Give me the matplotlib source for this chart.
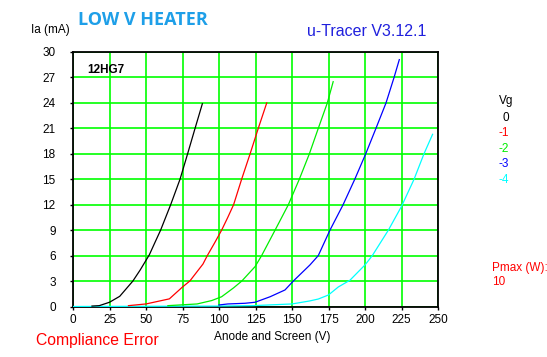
import matplotlib
matplotlib.use("Agg")
import matplotlib.pyplot as plt

# curves: anode voltage (V) vs anode current (mA)
vg_labels = ["0", "-1", "-2", "-3", "-4"]
vg_colors = ["black", "#FF0000", "#00EE00", "#0000FF", "#00FFFF"]

va_0 = [13, 18, 25, 32, 41, 46, 52.3, 56, 60, 66.9, 73.3, 78.5, 83.6, 88.6]
ia_0 = [0.05, 0.1, 0.5, 1.2, 3, 4.3, 6.1, 7.5, 9, 12, 15, 18, 21, 23.9]

va_1 = [38, 50, 58, 66, 75, 80, 89, 92, 97, 101.8, 106, 110, 115.5, 121.3, 126.9, 132.7]
ia_1 = [0.1, 0.3, 0.6, 0.9, 2.3, 3, 5, 6, 7.5, 9, 10.5, 12, 15, 18, 21, 24]

va_2 = [65, 85, 95, 101.8, 110, 115.6, 124.7, 129.2, 138.4, 147.5, 155, 161.9, 168, 174.2, 178.2]
ia_2 = [0.1, 0.3, 0.7, 1.15, 2.2, 3, 4.7, 6, 9, 12, 15, 18, 21, 24, 26.5]

va_3 = [100, 106, 117.8, 124.7, 135, 145.2, 150.9, 162.3, 168, 176, 185, 193, 200.5, 207.5, 214.4, 219.9, 223.5]
ia_3 = [0.18, 0.3, 0.38, 0.5, 1.15, 1.95, 3, 4.9, 6, 9, 12, 15, 18, 21, 24, 27, 29.1]

va_4 = [0, 100, 123, 150, 162, 168, 175, 181.7, 189.7, 200, 205, 216, 225, 233.6, 240.4, 246.3]
ia_4 = [0, 0.05, 0.1, 0.3, 0.65, 0.88, 1.36, 2.3, 3.1, 4.9, 6, 9, 11.8, 15, 18, 20.3]

x_ticks = [0, 25, 50, 75, 100, 125, 150, 175, 200, 225, 250]
y_ticks = [0, 3, 6, 9, 12, 15, 18, 21, 24, 27, 30]

W, H = 547, 357
plt.rcParams['font.family'] = ['Liberation Sans', 'DejaVu Sans']
fig = plt.figure(figsize=(W / 100, H / 100), dpi=100)
fig.patch.set_facecolor('white')

def px(x, y):
    return x / W, 1 - y / H

l, t = px(73, 52)
r, b = px(438, 306.5)
ax = fig.add_axes([l, b, r - l, t - b])

curves = [(va_0, ia_0), (va_1, ia_1), (va_2, ia_2), (va_3, ia_3), (va_4, ia_4)]
for i in [4, 3, 2, 1, 0]:
    va, ia = curves[i]
    ax.plot(va, ia, color=vg_colors[i], lw=0.9, zorder=3)

ax.set_xlim(0, 250)
ax.set_ylim(0, 30)
ax.set_xticks(x_ticks)
ax.set_yticks(y_ticks)
ax.grid(True, color='#00FF00', lw=1.2, zorder=1)
ax.set_axisbelow(True)
for s in ax.spines.values():
    s.set_color('black')
    s.set_linewidth(1.3)
ax.tick_params(axis='both', labelsize=8.5, length=2.5, width=1, color='black')
ax.tick_params(axis='y', pad=10)
ax.tick_params(axis='x', pad=3)

fig.text(*px(143, 20), "LOW V HEATER", color='#1E9FE8', fontsize=13,
         fontweight='bold', family=['Open Sans', 'DejaVu Sans'], ha='center', va='center')
fig.text(*px(50, 30), "Ia (mA)", fontsize=8.5, ha='center', va='center')
fig.text(*px(367, 32), "u-Tracer V3.12.1", color='#2020DD', fontsize=11.5,
         ha='center', va='center')
fig.text(*px(106, 70), "12HG7", fontsize=8.5, fontweight='bold', ha='center', va='center')
fig.text(*px(272, 337), "Anode and Screen (V)", fontsize=8.5, ha='center', va='center')
fig.text(*px(36, 341), "Compliance Error", color='#FF0000', fontsize=11.3,
         ha='left', va='center')

fig.text(*px(506, 101), "Vg", fontsize=8.5, ha='center', va='center')
for i, lab in enumerate(vg_labels):
    fig.text(*px(509, 118 + i * 15.5), lab, color=vg_colors[i], fontsize=8.5,
             ha='right', va='center')
fig.text(*px(492, 268), "Pmax (W):", color='#FF0000', fontsize=8.5, ha='left', va='center')
fig.text(*px(492, 282), "10", color='#FF0000', fontsize=8.5, ha='left', va='center')

fig.savefig("out.png", dpi=100)
